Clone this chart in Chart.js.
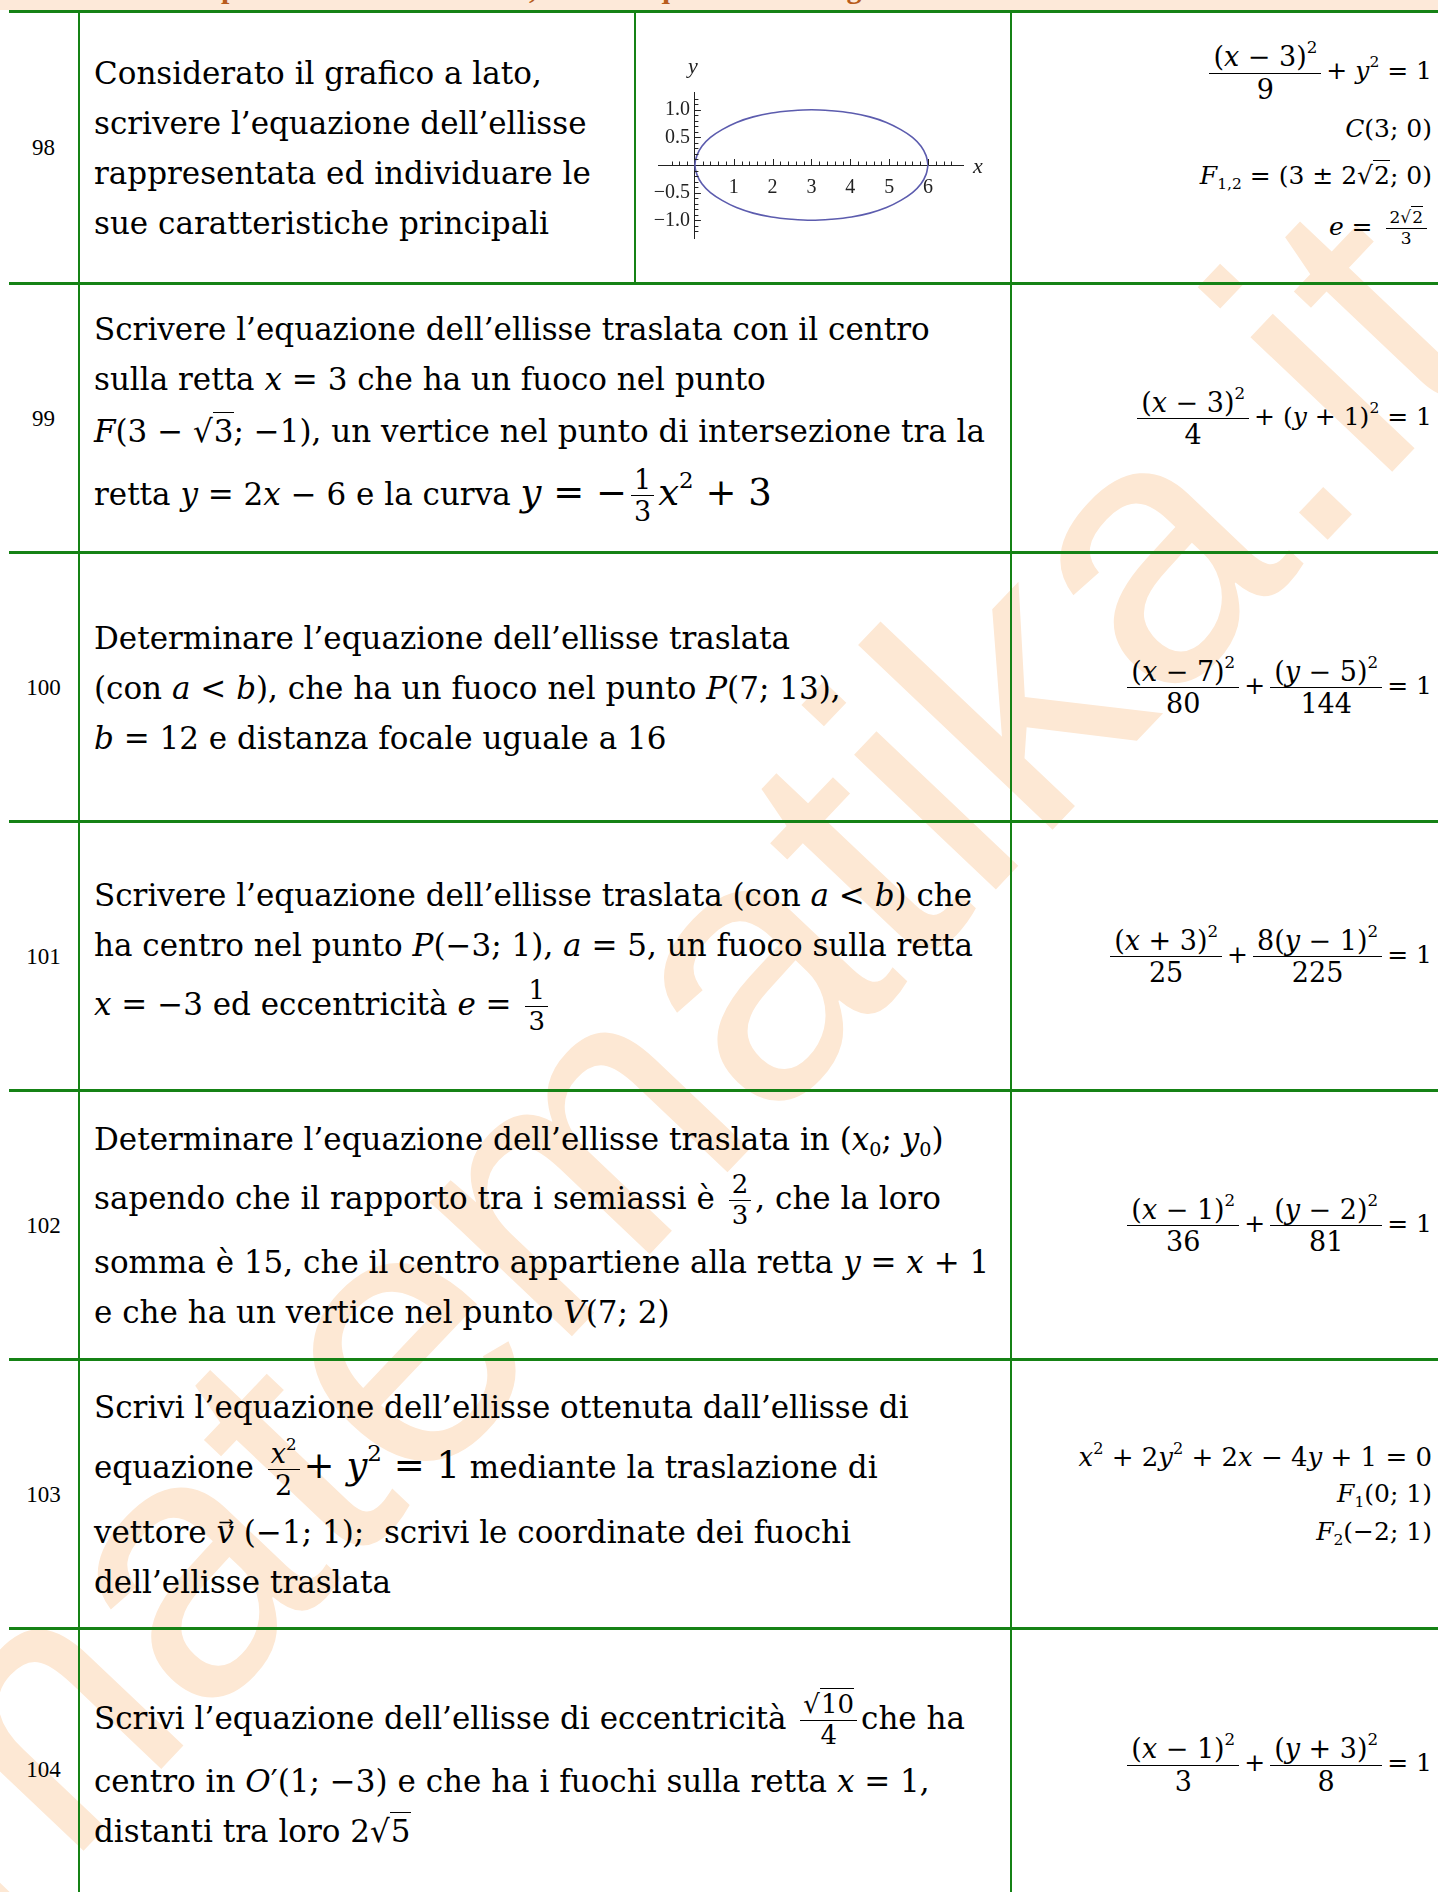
<!DOCTYPE html>
<html lang="it">
<head>
<meta charset="utf-8">
<title>Ellisse traslata - esercizi 98-104</title>
<script src="https://cdn.jsdelivr.net/npm/chart.js@4.4.0/dist/chart.umd.min.js"></script>
<style>
html, body { margin: 0; padding: 0; }
body { width: 1438px; height: 1892px; position: relative; overflow: hidden; background: #fff; font-family: 'DejaVu Serif', serif; color: #000; }
#wm { position: absolute; left: -239px; top: 1736px; font-family: 'Liberation Sans', sans-serif; font-size: 370px; line-height: 1; color: #fde8d4; white-space: nowrap; transform-origin: 0 0; transform: rotate(-46.5deg); z-index: 0; }
#band { position: absolute; left: 0; top: 0; width: 1438px; height: 10px; background: #fde9d9; overflow: hidden; }
#band span { position: absolute; left: 221px; top: -29px; font-family: 'Liberation Serif', serif; font-size: 30px; font-weight: bold; color: #b85c1c; white-space: nowrap; }
.hl { position: absolute; left: 9px; width: 1429px; height: 3px; background: #158215; z-index: 2; }
.vl { position: absolute; width: 2px; background: #158215; z-index: 2; }
.num { position: absolute; left: 9px; width: 69px; display: flex; align-items: center; justify-content: center; font-family: 'Liberation Serif', serif; font-size: 23px; z-index: 1; }
.txt { position: absolute; left: 94px; width: 915px; display: flex; flex-direction: column; justify-content: center; font-size: 31px; z-index: 1; }
.txt > div { line-height: 50px; white-space: nowrap; }
.ans { position: absolute; left: 1013px; width: 419px; display: flex; flex-direction: column; justify-content: center; align-items: flex-end; font-size: 25px; z-index: 1; }
.ans > div { line-height: 47px; white-space: nowrap; }
.fr { display: inline-flex; flex-direction: column; align-items: center; vertical-align: middle; line-height: 1.15; margin: 0 4px; }
.fr > span:first-child { border-bottom: 1.8px solid #000; padding: 0 3px; align-self: stretch; text-align: center; }
.txt .fr { padding: 6px 0; }
.ans .fr { font-size: 27px; margin: 0 5px; }
.ans .fr > span:first-child { padding: 0 4px; }
.big { font-size: 37px; }
.ans .sm { font-size: 17px; }
sup { font-size: 0.62em; line-height: 0; vertical-align: 0.75em; }
sub { font-size: 0.62em; line-height: 0; vertical-align: -0.3em; }
.sq { border-top: 1.6px solid #000; padding-left: 1px; }
#chartBox { position: absolute; left: 636px; top: 12px; width: 375px; height: 271px; z-index: 1; }
</style>
</head>
<body>

<div id="wm">matematika.it</div>
<div id="band"><span>problemi: trova le ellissi, scrivi l’equazione e disegna le ellissi traslate</span></div>

<!-- righe e colonne della tabella -->
<div class="hl" style="top:10px"></div>
<div class="hl" style="top:282px"></div>
<div class="hl" style="top:551px"></div>
<div class="hl" style="top:820px"></div>
<div class="hl" style="top:1089px"></div>
<div class="hl" style="top:1358px"></div>
<div class="hl" style="top:1627px"></div>
<div class="vl" style="left:78px; top:10px; height:1882px"></div>
<div class="vl" style="left:634px; top:10px; height:273px"></div>
<div class="vl" style="left:1010px; top:10px; height:1882px"></div>

<!-- numeri esercizi -->
<div class="num" style="top:13px; height:269px">98</div>
<div class="num" style="top:285px; height:267px">99</div>
<div class="num" style="top:554px; height:267px">100</div>
<div class="num" style="top:823px; height:267px">101</div>
<div class="num" style="top:1092px; height:267px">102</div>
<div class="num" style="top:1361px; height:267px">103</div>
<div class="num" style="top:1630px; height:280px">104</div>

<!-- testi -->
<div class="txt" style="top:13px; height:269px; width:535px">
  <div>Considerato il grafico a lato,</div>
  <div>scrivere l’equazione dell’ellisse</div>
  <div>rappresentata ed individuare le</div>
  <div>sue caratteristiche principali</div>
</div>
<div class="txt" style="top:285px; height:267px">
  <div>Scrivere l’equazione dell’ellisse traslata con il centro</div>
  <div>sulla retta <i>x</i> = 3 che ha un fuoco nel punto</div>
  <div style="line-height:54px"><i>F</i>(3 − √<span class="sq">3</span>; −1), un vertice nel punto di intersezione tra la</div>
  <div><span>retta <i>y</i> = 2<i>x</i> − 6 e la curva </span><span class="big"><i>y</i> = −<span class="fr" style="font-size:27px"><span>1</span><span>3</span></span><i>x</i><sup>2</sup> + 3</span></div>
</div>
<div class="txt" style="top:554px; height:267px">
  <div>Determinare l’equazione dell’ellisse traslata</div>
  <div>(con <i>a</i> &lt; <i>b</i>), che ha un fuoco nel punto <i>P</i>(7; 13),</div>
  <div><i>b</i> = 12 e distanza focale uguale a 16</div>
</div>
<div class="txt" style="top:823px; height:267px">
  <div>Scrivere l’equazione dell’ellisse traslata (con <i>a</i> &lt; <i>b</i>) che</div>
  <div>ha centro nel punto <i>P</i>(−3; 1), <i>a</i> = 5, un fuoco sulla retta</div>
  <div><i>x</i> = −3 ed eccentricità <i>e</i> = <span class="fr" style="font-size:26px"><span>1</span><span>3</span></span></div>
</div>
<div class="txt" style="top:1092px; height:267px">
  <div>Determinare l’equazione dell’ellisse traslata in (<i>x</i><sub>0</sub>; <i>y</i><sub>0</sub>)</div>
  <div>sapendo che il rapporto tra i semiassi è <span class="fr" style="font-size:26px"><span>2</span><span>3</span></span>, che la loro</div>
  <div>somma è 15, che il centro appartiene alla retta <i>y</i> = <i>x</i> + 1</div>
  <div>e che ha un vertice nel punto <i>V</i>(7; 2)</div>
</div>
<div class="txt" style="top:1361px; height:267px">
  <div>Scrivi l’equazione dell’ellisse ottenuta dall’ellisse di</div>
  <div>equazione <span class="fr" style="font-size:27px"><span><i>x</i><sup>2</sup></span><span>2</span></span><span class="big">+ <i>y</i><sup>2</sup> = 1</span> mediante la traslazione di</div>
  <div>vettore <i>v</i>⃗ (−1; 1);&nbsp; scrivi le coordinate dei fuochi</div>
  <div>dell’ellisse traslata</div>
</div>
<div class="txt" style="top:1630px; height:280px">
  <div>Scrivi l’equazione dell’ellisse di eccentricità <span class="fr" style="font-size:26px"><span>√<span class="sq">10</span></span><span>4</span></span>che ha</div>
  <div>centro in <i>O</i>′(1; −3) e che ha i fuochi sulla retta <i>x</i> = 1,</div>
  <div>distanti tra loro 2√<span class="sq">5</span></div>
</div>

<!-- soluzioni -->
<div class="ans" style="top:13px; height:269px">
  <div style="line-height:58px"><span class="fr"><span>(<i>x</i> − 3)<sup>2</sup></span><span>9</span></span>+ <i>y</i><sup>2</sup> = 1</div>
  <div><i>C</i>(3; 0)</div>
  <div><i>F</i><sub>1,2</sub> = (3 ± 2√<span class="sq">2</span>; 0)</div>
  <div style="line-height:55px"><i>e</i> = <span class="fr sm"><span>2√<span class="sq">2</span></span><span>3</span></span></div>
</div>
<div class="ans" style="top:285px; height:267px">
  <div><span class="fr"><span>(<i>x</i> − 3)<sup>2</sup></span><span>4</span></span>+ (<i>y</i> + 1)<sup>2</sup> = 1</div>
</div>
<div class="ans" style="top:554px; height:267px">
  <div><span class="fr"><span>(<i>x</i> − 7)<sup>2</sup></span><span>80</span></span>+<span class="fr"><span>(<i>y</i> − 5)<sup>2</sup></span><span>144</span></span>= 1</div>
</div>
<div class="ans" style="top:823px; height:267px">
  <div><span class="fr"><span>(<i>x</i> + 3)<sup>2</sup></span><span>25</span></span>+<span class="fr"><span>8(<i>y</i> − 1)<sup>2</sup></span><span>225</span></span>= 1</div>
</div>
<div class="ans" style="top:1092px; height:267px">
  <div><span class="fr"><span>(<i>x</i> − 1)<sup>2</sup></span><span>36</span></span>+<span class="fr"><span>(<i>y</i> − 2)<sup>2</sup></span><span>81</span></span>= 1</div>
</div>
<div class="ans" style="top:1361px; height:267px">
  <div style="line-height:36px; font-size:26px"><i>x</i><sup>2</sup> + 2<i>y</i><sup>2</sup> + 2<i>x</i> − 4<i>y</i> + 1 = 0</div>
  <div style="line-height:38px"><i>F</i><sub>1</sub>(0; 1)</div>
  <div style="line-height:38px"><i>F</i><sub>2</sub>(−2; 1)</div>
</div>
<div class="ans" style="top:1630px; height:270px">
  <div><span class="fr"><span>(<i>x</i> − 1)<sup>2</sup></span><span>3</span></span>+<span class="fr"><span>(<i>y</i> + 3)<sup>2</sup></span><span>8</span></span>= 1</div>
</div>

<div id="chartBox"><canvas id="ellipseChart"></canvas></div>

<script>
// Punti dell'ellisse (centro 3;0)
const ellipseX = [6.00, 5.95, 5.82, 5.60, 5.30, 4.93, 4.50, 4.03, 3.52, 3.00, 2.48, 1.97, 1.50, 1.07, 0.70, 0.40, 0.18, 0.05, 0.00,
                  0.05, 0.18, 0.40, 0.70, 1.07, 1.50, 1.97, 2.48, 3.00, 3.52, 4.03, 4.50, 4.93, 5.30, 5.60, 5.82, 5.95, 6.00];
const ellipseY = [0.00, 0.17, 0.34, 0.50, 0.64, 0.77, 0.87, 0.94, 0.98, 1.00, 0.98, 0.94, 0.87, 0.77, 0.64, 0.50, 0.34, 0.17, 0.00,
                  -0.17, -0.34, -0.50, -0.64, -0.77, -0.87, -0.94, -0.98, -1.00, -0.98, -0.94, -0.87, -0.77, -0.64, -0.50, -0.34, -0.17, 0.00];

// Etichette degli assi
const xTickLabels = [1, 2, 3, 4, 5, 6];
const yTickLabels = [-1.0, -0.5, 0.5, 1.0];
const xLimits = [-0.95, 6.9];
const yLimits = [-1.32, 1.32];

const isLabel = (list, v) => list.some(l => Math.abs(l - v) < 1e-6);
const isStep = (v, step) => Math.abs(v / step - Math.round(v / step)) < 1e-6;

// Tacche in stile Mathematica (maggiori e minori) + nomi degli assi
const axisMarks = {
    id: 'axisMarks',
    afterDraw(chart) {
        const { ctx, scales: { x, y } } = chart;
        const x0 = x.getPixelForValue(0);
        const y0 = y.getPixelForValue(0);
        ctx.save();
        ctx.strokeStyle = '#222';
        ctx.lineWidth = 1;
        x.ticks.forEach(t => {
            if (!isStep(t.value, 0.2) || Math.abs(t.value) < 1e-6) return;
            const len = isStep(t.value, 1) ? 6 : 3.5;
            const px = Math.round(x.getPixelForValue(t.value)) + 0.5;
            ctx.beginPath();
            ctx.moveTo(px, y0);
            ctx.lineTo(px, y0 - len);
            ctx.stroke();
        });
        y.ticks.forEach(t => {
            if (!isStep(t.value, 0.1) || Math.abs(t.value) < 1e-6) return;
            const len = isStep(t.value, 0.5) ? 6 : 3.5;
            const py = Math.round(y.getPixelForValue(t.value)) + 0.5;
            ctx.beginPath();
            ctx.moveTo(x0, py);
            ctx.lineTo(x0 + len, py);
            ctx.stroke();
        });
        ctx.fillStyle = '#222';
        ctx.font = 'italic 22px "Liberation Serif"';
        ctx.textAlign = 'center';
        ctx.textBaseline = 'middle';
        ctx.fillText('x', x.right + 15, y0 + 2);
        ctx.fillText('y', x0 - 2, y.top - 25);
        ctx.restore();
    }
};

const ctx = document.getElementById('ellipseChart').getContext('2d');
const chart = new Chart(ctx, {
    type: 'scatter',
    data: {
        datasets: [{
            label: 'ellisse',
            data: ellipseX.map((v, i) => ({ x: v, y: ellipseY[i] })),
            showLine: true,
            borderColor: '#5c5cae',
            borderWidth: 1.6,
            pointRadius: 0,
            tension: 0.35,
            fill: false
        }]
    },
    options: {
        responsive: true,
        maintainAspectRatio: false,
        animation: false,
        events: [],
        layout: { padding: { left: 22, right: 48, top: 80, bottom: 45 } },
        plugins: { legend: { display: false }, tooltip: { enabled: false } },
        scales: {
            x: {
                type: 'linear',
                position: { y: 0 },
                min: xLimits[0],
                max: xLimits[1],
                grid: { display: true, drawOnChartArea: false, drawTicks: false },
                border: { display: true, color: '#222', width: 1 },
                ticks: {
                    stepSize: 0.2,
                    autoSkip: false,
                    maxRotation: 0,
                    padding: 11,
                    color: '#222',
                    font: { family: 'Liberation Serif', size: 20 },
                    callback: v => isLabel(xTickLabels, v) ? String(Math.round(v)) : ''
                }
            },
            y: {
                type: 'linear',
                position: { x: 0 },
                min: yLimits[0],
                max: yLimits[1],
                grid: { display: true, drawOnChartArea: false, drawTicks: false },
                border: { display: true, color: '#222', width: 1 },
                ticks: {
                    stepSize: 0.1,
                    autoSkip: false,
                    padding: 0,
                    color: '#222',
                    font: { family: 'Liberation Serif', size: 20 },
                    callback: v => isLabel(yTickLabels, v) ? v.toFixed(1).replace('-', '\u2212') + ' ' : ''
                }
            }
        }
    },
    plugins: [axisMarks]
});
</script>
</body>
</html>
